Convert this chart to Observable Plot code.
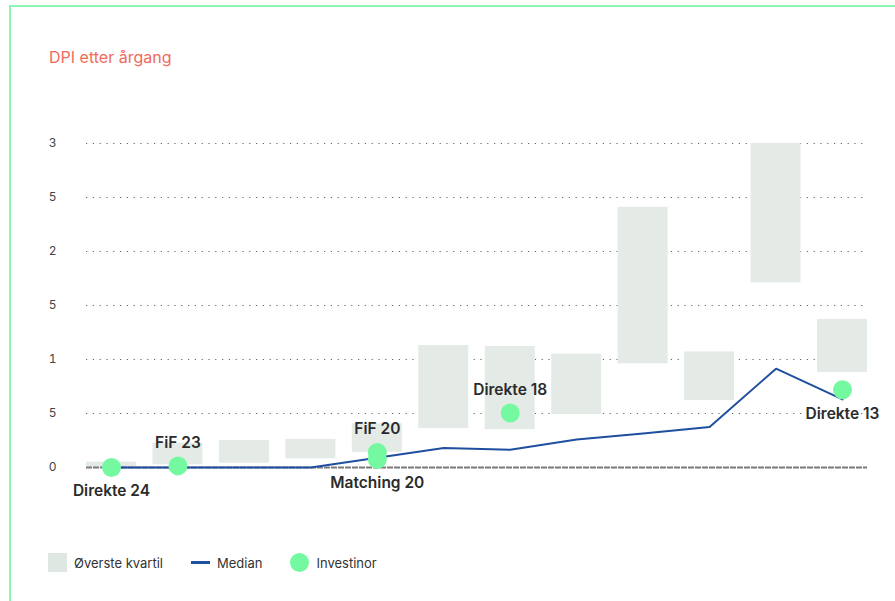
<!DOCTYPE html>
<html>
<head>
<meta charset="utf-8">
<script src="https://cdn.jsdelivr.net/npm/d3@7"></script>
<script src="https://cdn.jsdelivr.net/npm/@observablehq/plot@0.6"></script>
<style>
  html, body { margin: 0; padding: 0; background: #fff; }
  #wrap { position: relative; width: 895px; height: 601px; overflow: hidden; font-family: Inter, Lato, sans-serif; }
  #frame { position: absolute; left: 9px; top: 5px; right: -10px; bottom: -10px; border-top: 2px solid #8ef5b3; border-left: 2px solid #8ef5b3; }
  #title { position: absolute; left: 49px; top: 47px; font-size: 16px; color: #f26a5a; white-space: nowrap; }
  #chart { position: absolute; left: 0; top: 100px; }
  #legend { position: absolute; left: 48px; top: 553px; height: 19px; display: flex; align-items: center; font-size: 13px; color: #333; white-space: nowrap; }
  .sw { display: inline-block; margin-right: 7px; flex: none; }
  .item { display: flex; align-items: center; margin-right: 28px; }
</style>
</head>
<body>
<div id="wrap">
  <div id="frame"></div>
  <div id="title">DPI etter årgang</div>
  <div id="chart"></div>
  <div id="legend">
    <div class="item"><span class="sw" style="width:19px;height:19px;background:#dfe7e2"></span>Øverste kvartil</div>
    <div class="item"><span class="sw" style="width:19px;height:2.5px;background:#1f4f9f"></span>Median</div>
    <div class="item"><span class="sw" style="width:19px;height:19px;border-radius:50%;background:#75f9a0"></span>Investinor</div>
  </div>
</div>
<script>
// Vintages (categories, no visible labels)
const vintages = ["V1","V2","V3","V4","V5","V6","V7","V8","V9","V10","V11","V12"];
// Upper quartile box: lower and upper bounds
const quartileLow  = [0.00, 0.025, 0.04, 0.08, 0.14, 0.36, 0.35, 0.49, 0.96, 0.62, 1.71, 0.88];
const quartileHigh = [0.05, 0.225, 0.25, 0.26, 0.405, 1.13, 1.12, 1.05, 2.41, 1.07, 3.00, 1.37];
// Median DPI
const median = [0, 0, 0, 0, 0.09, 0.18, 0.165, 0.26, 0.315, 0.375, 0.915, 0.63];
// Investinor funds
const fundVintage = ["V1","V2","V5","V5","V7","V12"];
const fundValue   = [0.00, 0.015, 0.14, 0.075, 0.505, 0.72];
const fundName    = ["Direkte 24","FiF 23","FiF 20","Matching 20","Direkte 18","Direkte 13"];
// Y tick values and their labels as printed
const yTicks = [0, 0.5, 1, 1.5, 2, 2.5, 3];
const yTickLabels = ["0","5","1","5","2","5","3"];

const boxes = vintages.map((v, i) => ({v, lo: quartileLow[i], hi: quartileHigh[i]}));
const med = vintages.map((v, i) => ({v, m: median[i]}));
const funds = fundName.map((n, i) => ({v: fundVintage[i], y: fundValue[i], name: n}));
const aboveNames = ["FiF 23","FiF 20","Direkte 18"];

const chart = Plot.plot({
  width: 895,
  height: 420,
  marginLeft: 86,
  marginRight: 28,
  marginTop: 43,
  marginBottom: 53,
  style: {fontFamily: "Inter, Lato, sans-serif", background: "transparent"},
  x: {type: "band", domain: vintages, paddingInner: 0.2476, paddingOuter: 0, round: false, axis: null},
  y: {domain: [0, 3], axis: null},
  marks: [
    Plot.ruleY(yTicks.filter(d => d > 0), {stroke: "#666", strokeWidth: 1, strokeDasharray: "1.2,5.6"}),
    Plot.barY(boxes, {x: "v", y1: "lo", y2: "hi", fill: "#e4ebe7"}),
    Plot.ruleY([0], {stroke: "#7a7a7a", strokeWidth: 2, strokeDasharray: "6,1"}),
    Plot.axisY(yTicks, {tickSize: 0, tickPadding: 30, fontSize: 12, fill: "#444", tickFormat: d => yTickLabels[yTicks.indexOf(d)]}),
    Plot.line(med, {x: "v", y: "m", stroke: "#1f4f9f", strokeWidth: 2}),
    Plot.dot(funds, {x: "v", y: "y", r: 9.5, fill: "#75f9a0"}),
    Plot.text(funds.filter(d => aboveNames.includes(d.name)), {x: "v", y: "y", text: "name", dy: -23, fontSize: 15.5, fontWeight: 600, fill: "#2b2b2b"}),
    Plot.text(funds.filter(d => !aboveNames.includes(d.name)), {x: "v", y: "y", text: "name", dy: 24, fontSize: 15.5, fontWeight: 600, fill: "#2b2b2b"})
  ]
});
document.getElementById("chart").appendChild(chart);
</script>
</body>
</html>
